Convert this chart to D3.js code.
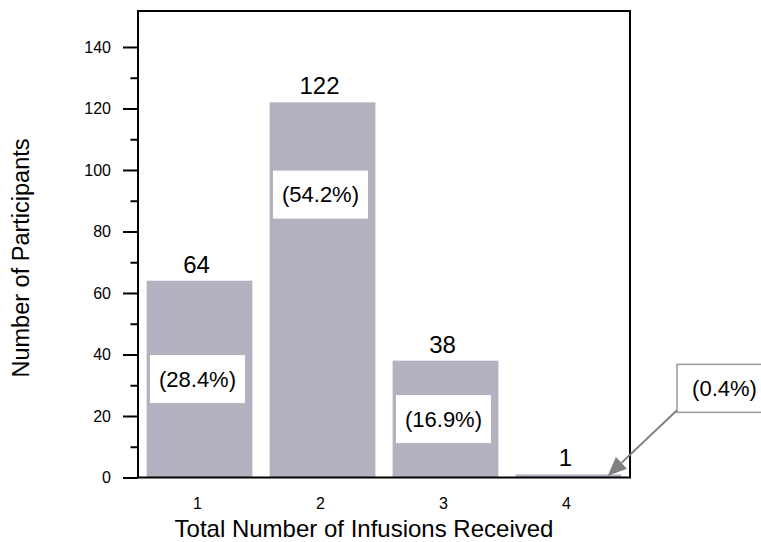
<!DOCTYPE html>
<html>
<head>
<meta charset="utf-8">
<script src="https://cdn.jsdelivr.net/npm/d3@7"></script>
<style>
  html, body { margin: 0; padding: 0; background: #fff; }
  svg { display: block; font-family: "Liberation Sans", Arial, sans-serif; }
</style>
</head>
<body>
<svg id="chart" width="761" height="542"></svg>
<script>
// ---- data ----
const categories = ["1", "2", "3", "4"];
const participants = [64, 122, 38, 1];
const percentLabels = ["(28.4%)", "(54.2%)", "(16.9%)", "(0.4%)"];
// vertical position (in data units) of the centre of each percentage box
const percentBoxAt = [32, 92, 19, 29];
const yTickValues = [0, 20, 40, 60, 80, 100, 120, 140];
const yMinorTickValues = [10, 30, 50, 70, 90, 110, 130];
const xTitle = "Total Number of Infusions Received";
const yTitle = "Number of Participants";

(function () {
// ---- layout ----
const svg = d3.select("#chart");
const pLeft = 138, pRight = 630, pTop = 11, pBottom = 477.5;
const barColor = "#b2b2c0";

const x = d3.scaleBand().domain(categories).range([pLeft, pRight])
  .paddingInner(0.14).paddingOuter(0.07);
const y = d3.scaleLinear().domain([0, 151.7]).range([pBottom, pTop]);

// bars
svg.append("g").selectAll("rect").data(participants).join("rect")
  .attr("x", (d, i) => x(categories[i]))
  .attr("y", d => y(d))
  .attr("width", x.bandwidth())
  .attr("height", d => y(0) - y(d))
  .attr("fill", barColor);

// value labels
svg.append("g").selectAll("text").data(participants).join("text")
  .attr("x", (d, i) => x(categories[i]) + x.bandwidth() / 2 - 3)
  .attr("y", d => y(d) - 8)
  .attr("text-anchor", "middle")
  .attr("font-size", 24)
  .attr("fill", "#000")
  .text(d => d);

// percentage boxes inside bars (first three)
const boxW = 95, boxH = 48;
const inner = svg.append("g");
[0, 1, 2].forEach(i => {
  const cx = x(categories[i]) + x.bandwidth() / 2 - 2;
  const cy = y(percentBoxAt[i]);
  inner.append("rect")
    .attr("x", cx - boxW / 2).attr("y", cy - boxH / 2)
    .attr("width", boxW).attr("height", boxH)
    .attr("fill", "#fff");
  inner.append("text")
    .attr("x", cx).attr("y", cy)
    .attr("dy", "0.35em")
    .attr("text-anchor", "middle")
    .attr("font-size", 22)
    .text(percentLabels[i]);
});

// frame
svg.append("rect")
  .attr("x", pLeft).attr("y", pTop)
  .attr("width", pRight - pLeft).attr("height", pBottom - pTop)
  .attr("fill", "none").attr("stroke", "#000").attr("stroke-width", 2);

// y axis
const yAxis = d3.axisLeft(y).tickValues(yTickValues).tickSize(15).tickPadding(12);
const gy = svg.append("g").attr("transform", `translate(${pLeft},0)`).call(yAxis);
gy.select(".domain").remove();
gy.selectAll(".tick line").attr("stroke", "#000").attr("stroke-width", 2);
gy.selectAll(".tick text").attr("font-size", 16).attr("fill", "#000")
  .attr("font-family", "Liberation Sans, Arial, sans-serif");
const gyMinor = svg.append("g").attr("transform", `translate(${pLeft},0)`)
  .call(d3.axisLeft(y).tickValues(yMinorTickValues).tickSize(7.5).tickFormat(""));
gyMinor.select(".domain").remove();
gyMinor.selectAll(".tick line").attr("stroke", "#000").attr("stroke-width", 2);

// x axis labels
const gx = svg.append("g").attr("transform", `translate(0,${pBottom})`)
  .call(d3.axisBottom(x).tickSize(0).tickPadding(20));
gx.select(".domain").remove();
gx.selectAll(".tick text").attr("font-size", 16).attr("fill", "#000")
  .attr("font-family", "Liberation Sans, Arial, sans-serif")
  .attr("dx", -2);

// axis titles
svg.append("text")
  .attr("x", 364).attr("y", 537)
  .attr("text-anchor", "middle").attr("font-size", 24)
  .text(xTitle);
svg.append("text")
  .attr("transform", "translate(29,258) rotate(-90)")
  .attr("text-anchor", "middle").attr("font-size", 23.5)
  .text(yTitle);

// callout for the last bar
const i4 = 3;
const cbx = pRight + 47 + boxW / 2;   // callout centre x
const cby = y(percentBoxAt[i4]);
svg.append("rect")
  .attr("x", cbx - boxW / 2).attr("y", cby - boxH / 2)
  .attr("width", boxW).attr("height", boxH)
  .attr("fill", "#fff").attr("stroke", "#999").attr("stroke-width", 1.5);
svg.append("text")
  .attr("x", cbx).attr("y", cby).attr("dy", "0.35em")
  .attr("text-anchor", "middle").attr("font-size", 22)
  .text(percentLabels[i4]);

// arrow
const ax0 = cbx - boxW / 2, ay0 = cby + boxH / 2 - 2;
const ax1 = x(categories[i4]) + x.bandwidth() * 0.87, ay1 = y(participants[i4]) + 1.5;
const ang = Math.atan2(ay1 - ay0, ax1 - ax0);
const headL = 19, headW = 8;
const bx = ax1 - headL * Math.cos(ang), by = ay1 - headL * Math.sin(ang);
svg.append("line")
  .attr("x1", ax0).attr("y1", ay0).attr("x2", bx).attr("y2", by)
  .attr("stroke", "#808080").attr("stroke-width", 2);
svg.append("path")
  .attr("d", d3.line()([
    [ax1, ay1],
    [bx + headW * Math.sin(ang), by - headW * Math.cos(ang)],
    [bx - headW * Math.sin(ang), by + headW * Math.cos(ang)]
  ]) + "Z")
  .attr("fill", "#808080");
})();
</script>
</body>
</html>
